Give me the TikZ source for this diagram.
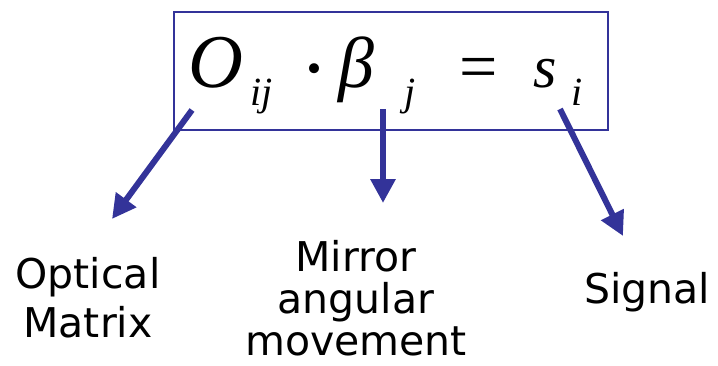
\documentclass[tikz,border=0pt]{standalone}
\usepackage{fontspec}
\setmainfont{DejaVu Sans}
\newfontfamily\eqfont{Liberation Serif}
\usepackage{tikz}
\usetikzlibrary{arrows.meta}
\definecolor{eqblue}{HTML}{333399}

\begin{document}
\begin{tikzpicture}[x=1pt, y=-1pt,
  frame/.style={draw=eqblue, line width=1.6pt},
  sym/.style={inner sep=0pt, anchor=base west, font=\eqfont\itshape},
  pointer/.style={eqblue, line width=6pt, -{Triangle[length=24pt, width=24pt]}},
  label/.style={inner sep=0pt, anchor=base, align=center, font=\fontsize{41}{49}\selectfont},
]
\useasboundingbox (0,0) rectangle (718,365);

% equation box
\draw[frame] (174,12) rectangle (608,130);

\node[sym, font=\eqfont\itshape\fontsize{76}{76}\selectfont] (opt) at (188,87) {O};
\node[sym, font=\eqfont\itshape\fontsize{40}{40}\selectfont] (optsub) at (250,105) {ij};
\node[sym, font=\eqfont\fontsize{84}{84}\selectfont] (dot) at (300,96) {·};
\node[sym, font=\eqfont\itshape\fontsize{72}{72}\selectfont] (beta) at (338,87) {β};
\node[sym, font=\eqfont\itshape\fontsize{40}{40}\selectfont] (betasub) at (404,105) {j};
\node[sym, font=\eqfont\fontsize{68}{68}\selectfont] (eq) at (459,89) {=};
\node[sym, font=\eqfont\itshape\fontsize{60}{60}\selectfont] (sig) at (533,87) {s};
\node[sym, font=\eqfont\itshape\fontsize{40}{40}\selectfont] (sigsub) at (571,105) {i};

% arrow ends
\coordinate (optfrom) at (192,110);
\coordinate (optto) at (112,219);
\coordinate (betafrom) at (383,109);
\coordinate (betato) at (383,203);
\coordinate (sigfrom) at (560,109);
\coordinate (sigto) at (623,236);

\draw[pointer] (optfrom) -- (optto);
\draw[pointer] (betafrom) -- (betato);
\draw[pointer] (sigfrom) -- (sigto);

% labels
\node[label] (matrix) at (88,337) {Optical\\Matrix};
\node[label, font=\fontsize{41}{42}\selectfont] (mirror) at (356,355) {Mirror\\angular\\movement};
\node[label] (signal) at (647,303) {Signal};

\end{tikzpicture}
\end{document}
